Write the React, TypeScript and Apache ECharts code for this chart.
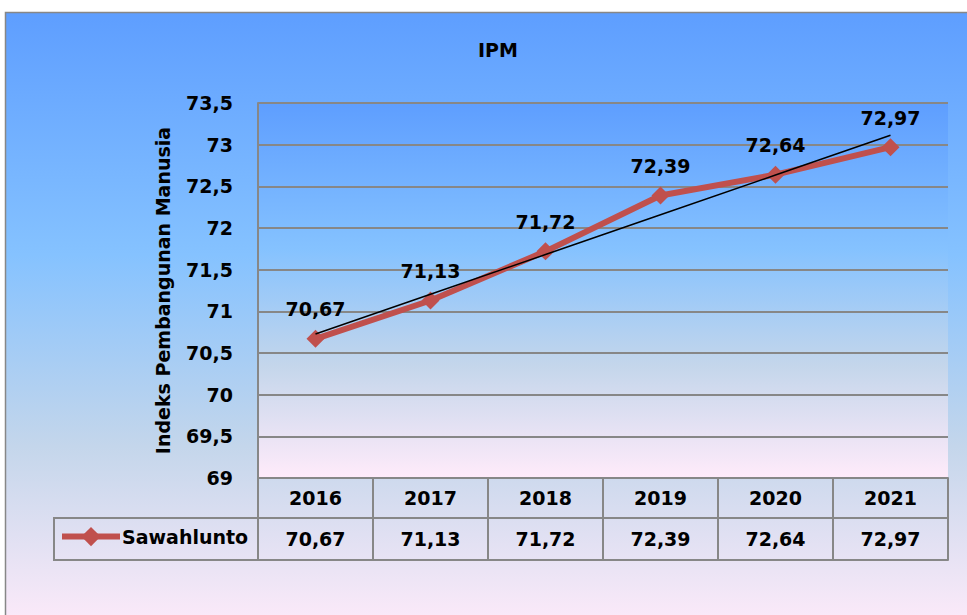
import React, { useEffect, useRef } from "react";
import * as echarts from "echarts";

const years = ["2016", "2017", "2018", "2019", "2020", "2021"];
const ipmValues = [70.67, 71.13, 71.72, 72.39, 72.64, 72.97];
const seriesName = "Sawahlunto";
const chartTitle = "IPM";
const yAxisTitle = "Indeks Pembangunan Manusia";
const yMin = 69;
const yMax = 73.5;
const yStep = 0.5;

// Excel-style linear trendline (least squares fit of the series)
function linearTrend(vals: number[]): number[] {
  const n = vals.length;
  const xs = vals.map((_, i) => i + 1);
  const mx = xs.reduce((a, b) => a + b, 0) / n;
  const my = vals.reduce((a, b) => a + b, 0) / n;
  let sxy = 0;
  let sxx = 0;
  for (let i = 0; i < n; i++) {
    sxy += (xs[i] - mx) * (vals[i] - my);
    sxx += (xs[i] - mx) * (xs[i] - mx);
  }
  const slope = sxy / sxx;
  return xs.map((x) => my + slope * (x - mx));
}

const fmt = (v: number) => String(v).replace(".", ",");

const FONT = "DejaVu Sans";
const GRAY = "#878787";

const daybreakStops = [
  { offset: 0, color: "#5E9EFF" },
  { offset: 0.39, color: "#85C2FF" },
  { offset: 0.7, color: "#C4D6EB" },
  { offset: 1, color: "#FFEBFA" },
];

export default function App() {
  const ref = useRef<HTMLDivElement>(null);

  useEffect(() => {
    if (!ref.current) return;
    const chart = echarts.init(ref.current, undefined, { renderer: "svg" });
    const trend = linearTrend(ipmValues);

    const textBase = { fontFamily: FONT, fontWeight: "bold" as const, color: "#000", fontSize: 19 };

    chart.setOption({
      animation: false,
      backgroundColor: "#ffffff",
      graphic: [
        {
          type: "rect",
          z: -10,
          silent: true,
          shape: { x: 5.5, y: 12.5, width: 1000, height: 620 },
          style: {
            fill: new echarts.graphic.LinearGradient(0, 0, 0, 1, daybreakStops),
            stroke: GRAY,
            lineWidth: 1.5,
          },
        },
        {
          type: "rect",
          z: 10,
          silent: true,
          shape: { x: 54, y: 518, width: 204, height: 42 },
          style: { fill: "none", stroke: GRAY, lineWidth: 2 },
        },
      ],
      title: {
        text: chartTitle,
        left: 493,
        top: 35,
        textAlign: "center",
        textStyle: { ...textBase, fontSize: 19 },
      },
      legend: {
        data: [seriesName],
        left: 59,
        top: 527,
        padding: 0,
        itemWidth: 58,
        itemHeight: 24,
        itemGap: 4,
        lineStyle: { width: 6, color: "#C0504D" },
        itemStyle: { color: "#C0504D" },
        textStyle: { ...textBase, padding: [0, 0, 0, -3] },
      },
      grid: {
        left: 258,
        right: 19,
        top: 103,
        bottom: 137,
        show: true,
        borderWidth: 0,
        backgroundColor: {
          type: "linear",
          x: 0,
          y: 0,
          x2: 0,
          y2: 1,
          colorStops: daybreakStops,
        },
      },
      xAxis: [
        {
          type: "category",
          data: years,
          position: "bottom",
          boundaryGap: true,
          axisLine: { show: true, lineStyle: { color: GRAY, width: 2 } },
          axisTick: { show: true, length: 40, inside: false, lineStyle: { color: GRAY, width: 2 } },
          axisLabel: { ...textBase, margin: 10 },
          splitLine: { show: false },
        },
        {
          type: "category",
          data: ipmValues.map(fmt),
          position: "bottom",
          offset: 40,
          boundaryGap: true,
          axisLine: { show: true, lineStyle: { color: GRAY, width: 2 } },
          axisTick: { show: true, length: 42, inside: false, lineStyle: { color: GRAY, width: 2 } },
          axisLabel: { ...textBase, margin: 11 },
          splitLine: { show: false },
        },
        {
          type: "category",
          data: years,
          position: "bottom",
          offset: 82,
          boundaryGap: true,
          axisLine: { show: true, lineStyle: { color: GRAY, width: 2 } },
          axisTick: { show: false },
          axisLabel: { show: false },
          splitLine: { show: false },
        },
      ],
      yAxis: {
        type: "value",
        min: yMin,
        max: yMax,
        interval: yStep,
        name: yAxisTitle,
        nameLocation: "middle",
        nameRotate: 90,
        nameGap: 86,
        nameTextStyle: { ...textBase },
        axisLine: { show: true, lineStyle: { color: GRAY, width: 2 } },
        axisTick: { show: false },
        axisLabel: { ...textBase, margin: 25, formatter: (v: number) => fmt(v) },
        splitLine: { show: true, lineStyle: { color: GRAY, width: 2 } },
      },
      series: [
        {
          name: seriesName,
          type: "line",
          xAxisIndex: 0,
          data: ipmValues,
          symbol: "diamond",
          symbolSize: 18,
          itemStyle: { color: "#C0504D" },
          lineStyle: { color: "#C0504D", width: 6 },
          label: {
            show: true,
            position: "top",
            distance: 11,
            ...textBase,
            formatter: (p: any) => fmt(p.value),
          },
          z: 3,
        },
        {
          name: "Linear trend",
          type: "line",
          xAxisIndex: 0,
          data: trend,
          symbol: "none",
          silent: true,
          lineStyle: { color: "#000", width: 1.5 },
          z: 4,
        },
      ],
    });

    return () => chart.dispose();
  }, []);

  return (
    <div
      ref={ref}
      style={{ position: "absolute", left: 0, top: 0, width: 967, height: 615 }}
    />
  );
}
